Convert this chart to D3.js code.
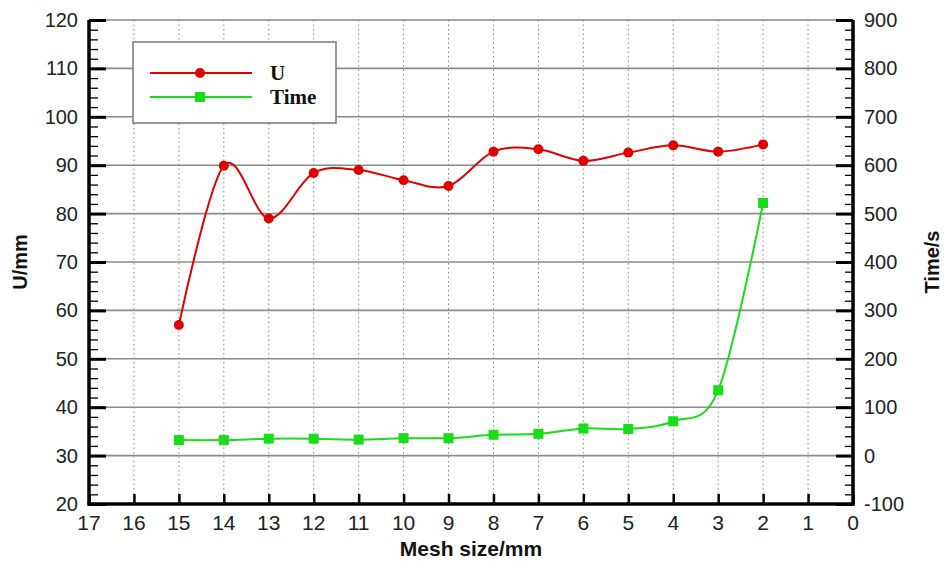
<!DOCTYPE html>
<html><head><meta charset="utf-8">
<script src="https://cdn.jsdelivr.net/npm/d3@7"></script>
<style>body{margin:0;background:#fff}svg{display:block}</style>
</head><body><svg id="c" width="945" height="561"></svg>
<script>
const meshSize = [15,14,13,12,11,10,9,8,7,6,5,4,3,2];
const uValues = [57.0,89.9,79.0,88.4,89.0,86.9,85.7,92.8,93.3,90.9,92.6,94.1,92.8,94.3];
const timeValues = [32,32,35,35,33,36,36,43,45,56,55,71,135,522];
const xTicks = [17,16,15,14,13,12,11,10,9,8,7,6,5,4,3,2,1,0];
const leftTicks = [20,30,40,50,60,70,80,90,100,110,120];
const rightTicks = [-100,0,100,200,300,400,500,600,700,800,900];
const seriesNames = ["U","Time"];

const svg = d3.select("#c");
const L=89, R=853, T=20, B=504;
const x = d3.scaleLinear().domain([17,0]).range([L,R]);
const yL = d3.scaleLinear().domain([20,120]).range([B,T]);
const yR = d3.scaleLinear().domain([-100,900]).range([B,T]);
const sans = "Arial, 'Liberation Sans', sans-serif";
const narrow = "'Liberation Sans Narrow','Arial Narrow', Arial, 'Liberation Sans', sans-serif";

// vertical dotted grid
svg.append("g").selectAll("line").data(xTicks.filter(d=>d>0&&d<17)).join("line")
  .attr("x1",d=>x(d)).attr("x2",d=>x(d)).attr("y1",T).attr("y2",B)
  .attr("stroke","#888").attr("stroke-width",1).attr("stroke-dasharray","1.5,3");
// horizontal grid
svg.append("g").selectAll("line").data(leftTicks.filter(d=>d>20)).join("line")
  .attr("x1",L).attr("x2",R).attr("y1",d=>yL(d)).attr("y2",d=>yL(d))
  .attr("stroke","#8a8a8a").attr("stroke-width",1.6);

// left axis
const gL = svg.append("g").attr("transform",`translate(${L},0)`)
  .call(d3.axisRight(yL).tickValues(leftTicks).tickSize(17).tickFormat(""));
gL.select(".domain").remove();
gL.selectAll(".tick line").attr("stroke","#000").attr("stroke-width",3);
svg.append("g").attr("transform",`translate(${L},0)`)
  .call(d3.axisRight(yL).tickValues(d3.range(20,121,2).filter(v=>v%10)).tickSize(9).tickFormat(""))
  .call(g=>g.select(".domain").remove())
  .selectAll(".tick line").attr("stroke","#000").attr("stroke-width",1.3);
svg.append("g").selectAll("text").data(leftTicks).join("text")
  .attr("x",L-11).attr("y",d=>yL(d)+7).attr("text-anchor","end")
  .attr("font-family",sans).attr("font-size",20).attr("fill","#222").text(d=>d);

// right axis
const gR = svg.append("g").attr("transform",`translate(${R},0)`)
  .call(d3.axisLeft(yR).tickValues(rightTicks).tickSize(17).tickFormat(""));
gR.select(".domain").remove();
gR.selectAll(".tick line").attr("stroke","#000").attr("stroke-width",3);
svg.append("g").attr("transform",`translate(${R},0)`)
  .call(d3.axisLeft(yR).tickValues(d3.range(-100,901,20).filter(v=>v%100)).tickSize(8).tickFormat(""))
  .call(g=>g.select(".domain").remove())
  .selectAll(".tick line").attr("stroke","#000").attr("stroke-width",1.3);
svg.append("g").selectAll("text").data(rightTicks).join("text")
  .attr("x",R+11).attr("y",d=>yR(d)+7).attr("text-anchor","start")
  .attr("font-family",sans).attr("font-size",20).attr("fill","#222").text(d=>d);

// bottom axis
const gB = svg.append("g").attr("transform",`translate(0,${B})`)
  .call(d3.axisTop(x).tickValues(xTicks).tickSize(10).tickFormat(""));
gB.select(".domain").remove();
gB.selectAll(".tick line").attr("stroke","#000").attr("stroke-width",2.5);
svg.append("g").selectAll("text").data(xTicks).join("text")
  .attr("x",d=>x(d)).attr("y",B+26).attr("text-anchor","middle")
  .attr("font-family",narrow).attr("font-size",21).attr("fill","#222").text(d=>d);

// axis frame lines
svg.append("line").attr("x1",L).attr("x2",L).attr("y1",T).attr("y2",B+1.5).attr("stroke","#000").attr("stroke-width",3.5);
svg.append("line").attr("x1",R).attr("x2",R).attr("y1",T).attr("y2",B+1.5).attr("stroke","#000").attr("stroke-width",3.5);
svg.append("line").attr("x1",L-1.5).attr("x2",R+1.5).attr("y1",B).attr("y2",B).attr("stroke","#000").attr("stroke-width",3.5);

// titles
svg.append("text").attr("transform",`translate(27,262) rotate(-90)`).attr("text-anchor","middle")
  .attr("font-family",sans).attr("font-weight","bold").attr("font-size",20).attr("fill","#111").text("U/mm");
svg.append("text").attr("transform",`translate(939,262) rotate(-90)`).attr("text-anchor","middle")
  .attr("font-family",sans).attr("font-weight","bold").attr("font-size",20).attr("fill","#111").text("Time/s");
svg.append("text").attr("x",471).attr("y",556).attr("text-anchor","middle")
  .attr("font-family",narrow).attr("font-weight","bold").attr("font-size",21).attr("fill","#111").text("Mesh size/mm");

const red="#e00000", green="#19dd19";
const curve = d3.curveCardinal.tension(0);
const lineU = d3.line().x((d,i)=>x(meshSize[i])).y(d=>yL(d)).curve(curve);
const lineT = d3.line().x((d,i)=>x(meshSize[i])).y(d=>yR(d)).curve(curve);
svg.append("path").attr("d",lineU(uValues)).attr("fill","none").attr("stroke",red).attr("stroke-width",2);
svg.append("path").attr("d",lineT(timeValues)).attr("fill","none").attr("stroke",green).attr("stroke-width",2);
svg.append("g").selectAll("circle").data(uValues).join("circle")
  .attr("cx",(d,i)=>x(meshSize[i])).attr("cy",d=>yL(d)).attr("r",5).attr("fill",red);
svg.append("g").selectAll("rect").data(timeValues).join("rect")
  .attr("x",(d,i)=>x(meshSize[i])-5).attr("y",d=>yR(d)-5).attr("width",10).attr("height",10).attr("fill",green);

// legend
const lg = svg.append("g");
lg.append("rect").attr("x",133).attr("y",42).attr("width",203).attr("height",81)
  .attr("fill","#fff").attr("stroke","#777").attr("stroke-width",1.5);
const legY=[73,97];
lg.selectAll("line").data(seriesNames).join("line")
  .attr("x1",150).attr("x2",252).attr("y1",(d,i)=>legY[i]).attr("y2",(d,i)=>legY[i])
  .attr("stroke",(d,i)=>i?green:red).attr("stroke-width",2);
lg.append("circle").attr("cx",200).attr("cy",legY[0]).attr("r",5).attr("fill",red);
lg.append("rect").attr("x",195).attr("y",legY[1]-5).attr("width",10).attr("height",10).attr("fill",green);
lg.selectAll("text").data(seriesNames).join("text")
  .attr("x",270).attr("y",(d,i)=>legY[i]+7).attr("font-family","'Liberation Serif','Times New Roman',serif")
  .attr("font-weight","bold").attr("font-size",21).attr("fill","#111").text(d=>d);
</script></body></html>
